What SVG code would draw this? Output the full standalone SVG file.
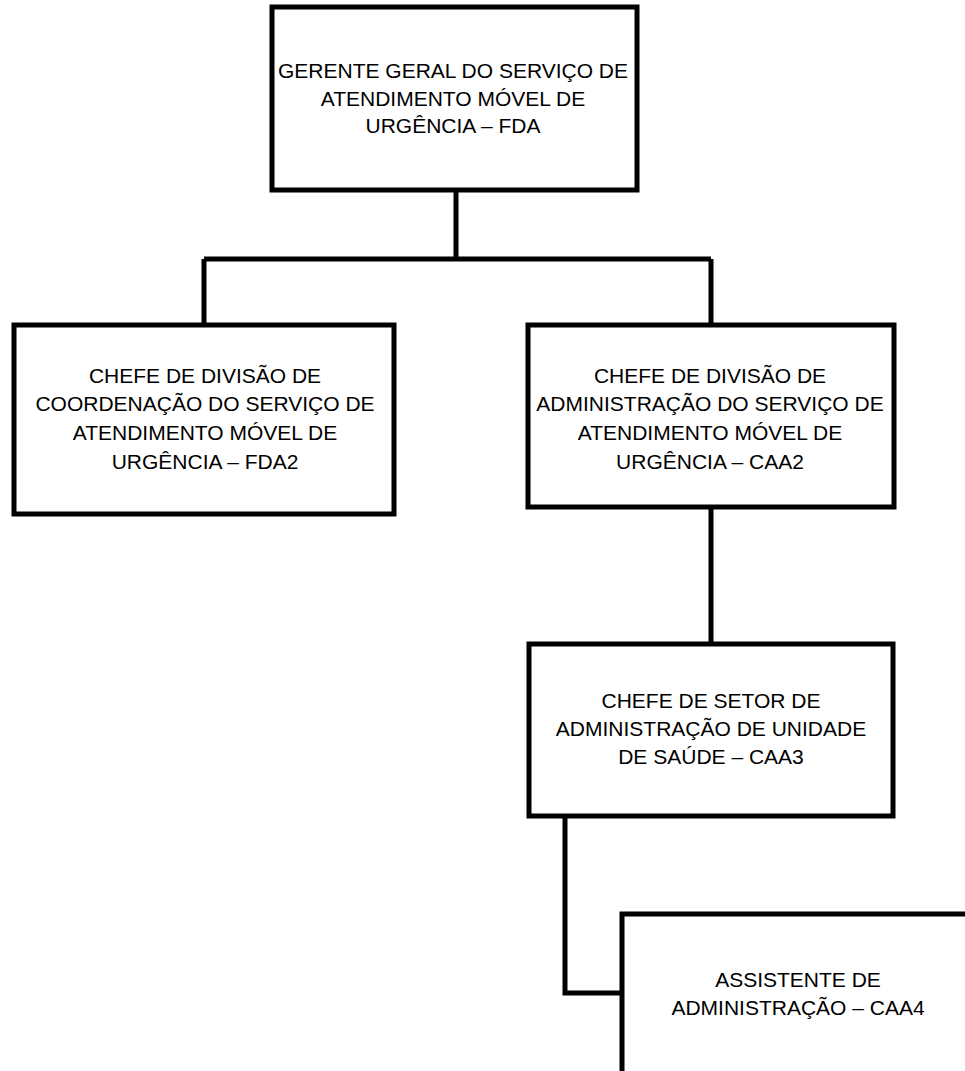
<svg xmlns="http://www.w3.org/2000/svg" width="965" height="1071" viewBox="0 0 965 1071">
<style>
.box{fill:#fff;stroke:#000;stroke-width:5}
.ln{fill:none;stroke:#000;stroke-width:5}
text{font-family:"Liberation Sans",Arial,sans-serif;font-size:21px;fill:#000;text-anchor:middle}
</style>
<rect width="965" height="1071" fill="#fff"/>
<g id="connectors">
<path class="ln" d="M456 190 V259 M204 259 H711 M204 259 V325 M711 259 V325"/>
<path class="ln" d="M711 507 V644"/>
<path class="ln" d="M565 816 V993 H622"/>
</g>
<g id="n-fda">
<rect class="box" x="272" y="7" width="365" height="183"/>
<text x="453" y="77.5">GERENTE GERAL DO SERVIÇO DE</text>
<text x="453" y="105.5">ATENDIMENTO MÓVEL DE</text>
<text x="453" y="133">URGÊNCIA – FDA</text>
</g>
<g id="n-fda2">
<rect class="box" x="14" y="325" width="380" height="189"/>
<text x="205" y="382.5">CHEFE DE DIVISÃO DE</text>
<text x="205" y="411">COORDENAÇÃO DO SERVIÇO DE</text>
<text x="205" y="440">ATENDIMENTO MÓVEL DE</text>
<text x="205" y="468.5">URGÊNCIA – FDA2</text>
</g>
<g id="n-caa2">
<rect class="box" x="528" y="325" width="366" height="182"/>
<text x="710" y="382.5">CHEFE DE DIVISÃO DE</text>
<text x="710" y="411">ADMINISTRAÇÃO DO SERVIÇO DE</text>
<text x="710" y="440">ATENDIMENTO MÓVEL DE</text>
<text x="710" y="468.5">URGÊNCIA – CAA2</text>
</g>
<g id="n-caa3">
<rect class="box" x="529" y="644" width="364" height="172"/>
<text x="711" y="707.5">CHEFE DE SETOR DE</text>
<text x="711" y="735.5">ADMINISTRAÇÃO DE UNIDADE</text>
<text x="711" y="764">DE SAÚDE – CAA3</text>
</g>
<g id="n-caa4">
<rect class="box" x="622" y="914" width="400" height="200"/>
<text x="798" y="987">ASSISTENTE DE</text>
<text x="798" y="1015">ADMINISTRAÇÃO – CAA4</text>
</g>
</svg>
